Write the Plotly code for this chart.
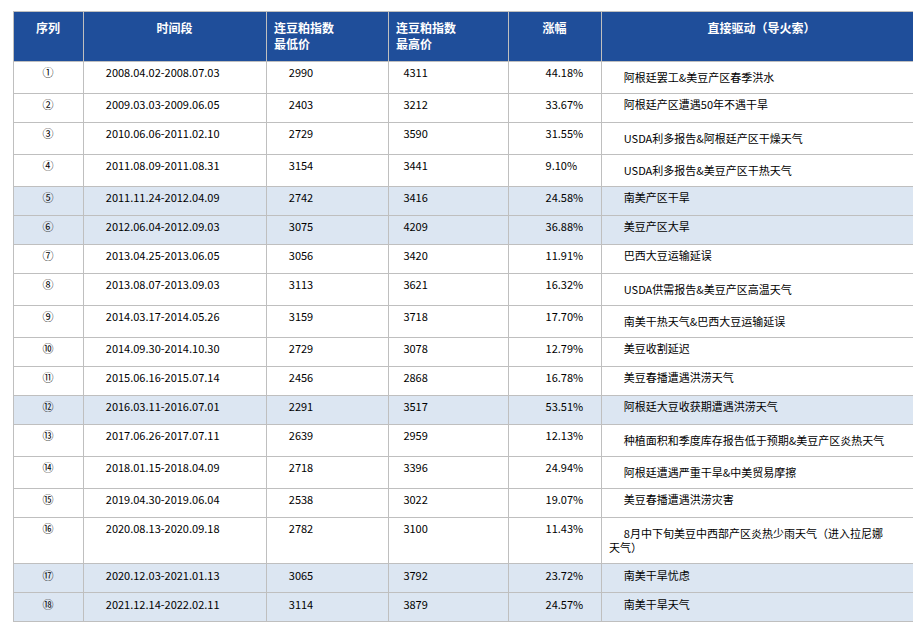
import plotly.graph_objects as go

seq = ['①', '②', '③', '④', '⑤', '⑥', '⑦', '⑧', '⑨', '⑩', '⑪', '⑫', '⑬', '⑭', '⑮', '⑯', '⑰', '⑱']
periods = ['2008.04.02-2008.07.03', '2009.03.03-2009.06.05', '2010.06.06-2011.02.10',
           '2011.08.09-2011.08.31', '2011.11.24-2012.04.09', '2012.06.04-2012.09.03',
           '2013.04.25-2013.06.05', '2013.08.07-2013.09.03', '2014.03.17-2014.05.26',
           '2014.09.30-2014.10.30', '2015.06.16-2015.07.14', '2016.03.11-2016.07.01',
           '2017.06.26-2017.07.11', '2018.01.15-2018.04.09', '2019.04.30-2019.06.04',
           '2020.08.13-2020.09.18', '2020.12.03-2021.01.13', '2021.12.14-2022.02.11']
low = [2990, 2403, 2729, 3154, 2742, 3075, 3056, 3113, 3159, 2729, 2456, 2291, 2639, 2718, 2538, 2782, 3065, 3114]
high = [4311, 3212, 3590, 3441, 3416, 4209, 3420, 3621, 3718, 3078, 2868, 3517, 2959, 3396, 3022, 3100, 3792, 3879]
change = ['44.18%', '33.67%', '31.55%', '9.10%', '24.58%', '36.88%', '11.91%', '16.32%', '17.70%',
          '12.79%', '16.78%', '53.51%', '12.13%', '24.94%', '19.07%', '11.43%', '23.72%', '24.57%']
drivers = ['阿根廷罢工&美豆产区春季洪水', '阿根廷产区遭遇50年不遇干旱', 'USDA利多报告&阿根廷产区干燥天气',
           'USDA利多报告&美豆产区干热天气', '南美产区干旱', '美豆产区大旱', '巴西大豆运输延误',
           'USDA供需报告&美豆产区高温天气', '南美干热天气&巴西大豆运输延误', '美豆收割延迟',
           '美豆春播遭遇洪涝天气', '阿根廷大豆收获期遭遇洪涝天气', '种植面积和季度库存报告低于预期&美豆产区炎热天气',
           '阿根廷遭遇严重干旱&中美贸易摩擦', '美豆春播遭遇洪涝灾害',
           '8月中下旬美豆中西部产区炎热少雨天气（进入拉尼娜<br>天气）', '南美干旱忧虑', '南美干旱天气']
headers = ['<b>序列</b>', '<b>时间段</b>', '<b>连豆粕指数<br>最低价</b>', '<b>连豆粕指数<br>最高价</b>',
           '<b>涨幅</b>', '<b>直接驱动（导火索）</b>']
highlight = {4, 5, 11, 16, 17}

fill = ['#DCE6F2' if i in highlight else 'white' for i in range(len(seq))]
pad = '\u00a0' * 3

fig = go.Figure(go.Table(
    columnwidth=[70, 183, 122, 120, 93, 321],
    header=dict(
        values=headers,
        fill_color='#1F4E9A',
        line_color='#BFBFBF',
        font=dict(color='white', size=12, family='Noto Sans CJK SC'),
        align=['center', 'center', 'left', 'left', 'center', 'center'],
        height=50,
    ),
    cells=dict(
        values=[seq,
                [pad * 2 + p for p in periods],
                [pad * 2 + str(v) for v in low],
                [pad + str(v) for v in high],
                [pad * 4 + c for c in change],
                [pad * 2 + d for d in drivers]],
        fill_color=[fill] * 6,
        line_color='#BFBFBF',
        font=dict(color='black', size=11, family='Noto Sans CJK SC'),
        align=['center', 'left', 'left', 'left', 'left', 'left'],
        height=29,
    ),
))
fig.update_layout(width=921, height=626, margin=dict(l=5, r=7, t=3, b=4),
                  paper_bgcolor='white')
fig.write_html("out.html")
